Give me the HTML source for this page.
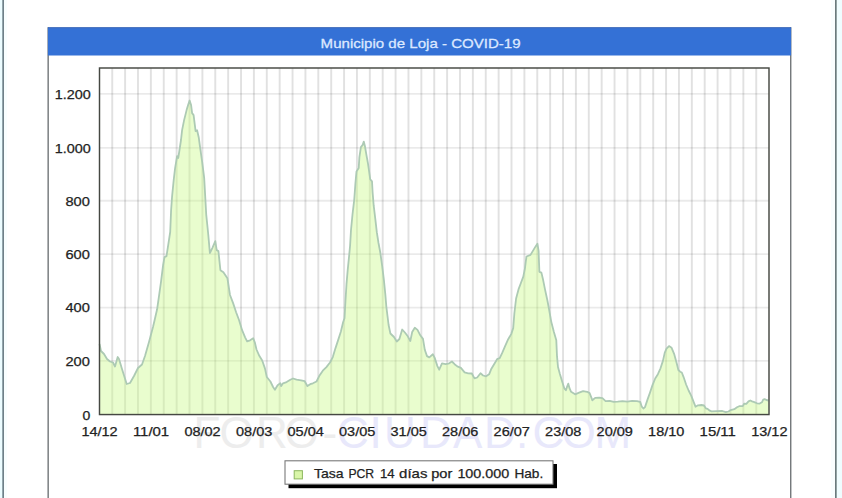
<!DOCTYPE html>
<html><head><meta charset="utf-8"><title>Municipio de Loja - COVID-19</title>
<style>
html,body{margin:0;padding:0;background:#fff;}
body{width:842px;height:498px;overflow:hidden;font-family:"Liberation Sans",sans-serif;}
svg{display:block;}
text{font-family:"Liberation Sans",sans-serif;}
</style></head><body>
<svg width="842" height="498" viewBox="0 0 842 498">
<rect x="0" y="0" width="842" height="498" fill="#ffffff"/>
<!-- outer page edges -->
<rect x="0" y="0" width="2" height="498" fill="#ebfcff"/>
<rect x="4" y="0" width="3" height="498" fill="#f8feff"/>
<rect x="2" y="0" width="1" height="498" fill="#93a6ad"/>
<rect x="3" y="0" width="1" height="498" fill="#6e8088"/>
<rect x="831" y="0" width="4" height="498" fill="#f8feff"/>
<rect x="837" y="0" width="5" height="498" fill="#effdff"/>
<rect x="835" y="0" width="1" height="498" fill="#6a7a7d"/>
<rect x="836" y="0" width="1" height="498" fill="#93a5a6"/>
<!-- watermark -->
<g font-size="44">
<text y="447.6" fill="#ededed" x="193.5 219.5 256 284.5 322.5">FORO-</text>
<text y="447.6" fill="#e8e8fb" x="337 369.5 384 420 453 484 516 532.5 561.5 594.5">CIUDAD.COM</text>
</g>
<!-- inner frame -->
<rect x="47.5" y="27.3" width="1.3" height="471" fill="#666b6e"/>
<rect x="790.1" y="27.3" width="1.3" height="471" fill="#666b6e"/>
<rect x="47.9" y="27.3" width="743.2" height="28.2" fill="#3471d6"/>
<rect x="47.9" y="27.3" width="743.2" height="0.9" fill="#4168b4"/>
<text x="320.6" y="47.7" font-size="13.6" fill="#dce8ff" stroke="#dce8ff" stroke-width="0.3" textLength="200" lengthAdjust="spacingAndGlyphs">Municipio de Loja - COVID-19</text>
<!-- plot -->
<g stroke="#000" stroke-opacity="0.082" stroke-width="1.8"><line x1="99.5" y1="360.95" x2="769.0" y2="360.95"/><line x1="99.5" y1="307.55" x2="769.0" y2="307.55"/><line x1="99.5" y1="254.15" x2="769.0" y2="254.15"/><line x1="99.5" y1="200.75" x2="769.0" y2="200.75"/><line x1="99.5" y1="147.80" x2="769.0" y2="147.80"/><line x1="99.5" y1="93.95" x2="769.0" y2="93.95"/></g>
<g stroke="#000" stroke-opacity="0.118" stroke-width="1.95"><line x1="112.23" y1="68.0" x2="112.23" y2="414.55"/><line x1="125.11" y1="68.0" x2="125.11" y2="414.55"/><line x1="137.99" y1="68.0" x2="137.99" y2="414.55"/><line x1="150.87" y1="68.0" x2="150.87" y2="414.55"/><line x1="163.75" y1="68.0" x2="163.75" y2="414.55"/><line x1="176.63" y1="68.0" x2="176.63" y2="414.55"/><line x1="189.51" y1="68.0" x2="189.51" y2="414.55"/><line x1="202.39" y1="68.0" x2="202.39" y2="414.55"/><line x1="215.27" y1="68.0" x2="215.27" y2="414.55"/><line x1="228.15" y1="68.0" x2="228.15" y2="414.55"/><line x1="241.03" y1="68.0" x2="241.03" y2="414.55"/><line x1="253.91" y1="68.0" x2="253.91" y2="414.55"/><line x1="266.79" y1="68.0" x2="266.79" y2="414.55"/><line x1="279.67" y1="68.0" x2="279.67" y2="414.55"/><line x1="292.55" y1="68.0" x2="292.55" y2="414.55"/><line x1="305.43" y1="68.0" x2="305.43" y2="414.55"/><line x1="318.31" y1="68.0" x2="318.31" y2="414.55"/><line x1="331.19" y1="68.0" x2="331.19" y2="414.55"/><line x1="344.07" y1="68.0" x2="344.07" y2="414.55"/><line x1="356.95" y1="68.0" x2="356.95" y2="414.55"/><line x1="369.83" y1="68.0" x2="369.83" y2="414.55"/><line x1="382.71" y1="68.0" x2="382.71" y2="414.55"/><line x1="395.59" y1="68.0" x2="395.59" y2="414.55"/><line x1="408.47" y1="68.0" x2="408.47" y2="414.55"/><line x1="421.35" y1="68.0" x2="421.35" y2="414.55"/><line x1="434.23" y1="68.0" x2="434.23" y2="414.55"/><line x1="447.11" y1="68.0" x2="447.11" y2="414.55"/><line x1="459.99" y1="68.0" x2="459.99" y2="414.55"/><line x1="472.87" y1="68.0" x2="472.87" y2="414.55"/><line x1="485.75" y1="68.0" x2="485.75" y2="414.55"/><line x1="498.63" y1="68.0" x2="498.63" y2="414.55"/><line x1="511.51" y1="68.0" x2="511.51" y2="414.55"/><line x1="524.39" y1="68.0" x2="524.39" y2="414.55"/><line x1="537.27" y1="68.0" x2="537.27" y2="414.55"/><line x1="550.15" y1="68.0" x2="550.15" y2="414.55"/><line x1="563.03" y1="68.0" x2="563.03" y2="414.55"/><line x1="575.91" y1="68.0" x2="575.91" y2="414.55"/><line x1="588.79" y1="68.0" x2="588.79" y2="414.55"/><line x1="601.67" y1="68.0" x2="601.67" y2="414.55"/><line x1="614.55" y1="68.0" x2="614.55" y2="414.55"/><line x1="627.43" y1="68.0" x2="627.43" y2="414.55"/><line x1="640.31" y1="68.0" x2="640.31" y2="414.55"/><line x1="653.19" y1="68.0" x2="653.19" y2="414.55"/><line x1="666.07" y1="68.0" x2="666.07" y2="414.55"/><line x1="678.95" y1="68.0" x2="678.95" y2="414.55"/><line x1="691.83" y1="68.0" x2="691.83" y2="414.55"/><line x1="704.71" y1="68.0" x2="704.71" y2="414.55"/><line x1="717.59" y1="68.0" x2="717.59" y2="414.55"/><line x1="730.47" y1="68.0" x2="730.47" y2="414.55"/><line x1="743.35" y1="68.0" x2="743.35" y2="414.55"/><line x1="756.23" y1="68.0" x2="756.23" y2="414.55"/></g>
<polygon points="99.5,344 101,351 104,354 107,359 110,361.5 113,362.5 115,366.5 117.7,357 119,359 122,369 126.7,384 130,383 134,376 138,368 142,364.5 145,356 149,342 153,327 155,318.5 157.1,309.3 159.1,295.3 161.1,281.2 163.1,265.2 164.5,257.1 166.5,256.1 168.2,245.1 170.2,232 171.1,210.3 172.1,196.3 173.7,180.2 175.1,168.2 177.1,156.1 178.2,158 179.2,152 181,140 182.1,130.2 184.1,120.1 186.6,110.1 188.1,105.1 189.6,100.5 191.1,105.1 192.1,113.1 193.6,115.1 194.6,123.1 195.6,131.2 197.1,130.2 198.7,137.2 200.2,148.1 202.2,162.1 204.2,178.2 205.2,196.3 206.2,214.3 207.3,225 208.3,235 209.9,253.1 212.3,248.1 215.3,241.1 216.7,250.1 218.4,251.1 220.4,270.2 223.4,272.2 227.4,278.2 230,295 233.1,303.1 236.1,312.2 239.1,320.2 242.1,330.2 245.1,337.3 247.1,341.3 250.1,340.3 253.2,338.3 254.8,342.3 256.5,349.5 259.3,355.8 262.2,360.5 265,368.6 266.8,377 270.4,381.5 273.1,387 274.9,389.7 277.6,385.2 280.3,383.3 281.2,386.1 283,383.3 286.6,382.1 290.3,379.7 293,378.5 296.6,379.7 301.1,380.3 304.7,381.2 307.4,386.1 310.2,384.2 312.9,383.3 316.5,381.5 319.2,376.1 322.8,370.7 326.4,367.1 330,362.5 332.8,357.1 335.5,348.1 338.2,339.9 340.9,331.5 343.1,322.3 344.5,318.3 345.5,300.2 346.5,284.2 347.7,270.1 349.1,256.1 350.1,245.5 351,230 352.5,214.5 354.3,199.1 355.4,183.6 356.5,171.4 358.7,168.1 359.4,157.1 360.9,147.1 362.7,144.9 363.8,141.6 364.9,146 366.4,154.9 368,163.7 369.3,172.6 370.2,179.2 372,181.4 372.6,192.4 373.7,205.7 375.3,218.9 376.8,232.2 378.5,243 380.2,252 382.2,266.1 383.9,280.2 385.3,294.2 386.3,306.3 387.5,316 388.6,325 390.4,333.5 394,337 396.8,341.5 399.4,339 402.2,329.5 404.9,332.5 407.8,336.3 410.3,341 412.2,332 414.8,327.7 417.5,329.9 420.3,335.3 423,338.9 424.8,349.8 427,356.1 429.3,357.4 432.9,354.3 434.7,357.9 437.4,366.1 439.2,369.7 442,363.3 445.6,364.2 449.2,363.3 451.9,361.5 454.6,364.2 457.3,366.4 460.9,367.9 464.6,372.4 468.2,373.3 471.8,373.5 474.5,378.4 477.2,377.5 480.5,373.3 483.1,375.5 486.1,376.3 489.1,374.3 491.1,369.3 494.1,364.3 497.1,359.2 499.7,358.2 502.1,353.2 505.1,346.2 508.2,339.2 511.2,334.1 513.2,328.1 514.4,313 516.1,298.5 518.5,289.4 520.9,283 523.3,276.6 524.9,268.6 525.7,262.1 526.5,256.5 530.5,254.9 532.9,250.9 535.3,246.9 537.4,243.7 538.6,250.9 539,262.1 539.4,271.8 541.4,272.6 543.1,279.8 545,289.4 547.4,300.5 549.2,310 551.3,322.1 553.9,332.1 556.3,340.2 557,356.2 558,367 559.9,374 562.3,382 564.3,388.3 565.9,390.2 567.1,386.6 568.3,383.7 569.5,388.2 571.1,391.8 575.1,394.3 579.1,392.7 583.1,391.1 587.2,391.8 589.6,393.1 591.2,397.1 592.3,400.3 595.2,397.9 599.2,397.6 602.4,398.2 605.6,401.1 609.7,400.8 613.7,401.9 617.7,401.6 622.5,401.1 627.3,401.6 632.2,400.8 637,401.1 640.2,401.9 641.8,406.7 643.4,408.5 645,407.1 647.5,399.6 650,392.6 652.5,385.1 655.2,378.5 657.9,374.2 660.5,368.3 663,360.6 664.7,352.9 666.5,348.7 669,346.1 671.6,347.8 674.1,353.8 676.7,363.2 678.4,370 680.1,371.7 681.8,372.5 683.5,376.8 686.1,384.5 688.6,390.5 691.2,395.6 693.8,402.4 695.5,406.7 698,405.3 701.4,405 704,405.5 705.8,408.3 707.6,408.9 709.8,410.7 711.6,411.3 716.9,411.1 722.3,411 725.8,412.2 728.5,411.5 730.7,410.1 734.3,409.2 737,407.3 739.2,406.2 742.8,406 744.3,403.6 746.3,403.9 748.5,401.4 750.3,400.5 752.1,401.4 754.3,402.1 757,403.3 759.7,403.6 761.9,402.3 763.2,399.6 764.6,399.1 766.4,400 768.5,400.5 768.5,414.55 99.5,414.55" fill="#c8fa84" fill-opacity="0.4"/>
<polyline points="99.5,344 101,351 104,354 107,359 110,361.5 113,362.5 115,366.5 117.7,357 119,359 122,369 126.7,384 130,383 134,376 138,368 142,364.5 145,356 149,342 153,327 155,318.5 157.1,309.3 159.1,295.3 161.1,281.2 163.1,265.2 164.5,257.1 166.5,256.1 168.2,245.1 170.2,232 171.1,210.3 172.1,196.3 173.7,180.2 175.1,168.2 177.1,156.1 178.2,158 179.2,152 181,140 182.1,130.2 184.1,120.1 186.6,110.1 188.1,105.1 189.6,100.5 191.1,105.1 192.1,113.1 193.6,115.1 194.6,123.1 195.6,131.2 197.1,130.2 198.7,137.2 200.2,148.1 202.2,162.1 204.2,178.2 205.2,196.3 206.2,214.3 207.3,225 208.3,235 209.9,253.1 212.3,248.1 215.3,241.1 216.7,250.1 218.4,251.1 220.4,270.2 223.4,272.2 227.4,278.2 230,295 233.1,303.1 236.1,312.2 239.1,320.2 242.1,330.2 245.1,337.3 247.1,341.3 250.1,340.3 253.2,338.3 254.8,342.3 256.5,349.5 259.3,355.8 262.2,360.5 265,368.6 266.8,377 270.4,381.5 273.1,387 274.9,389.7 277.6,385.2 280.3,383.3 281.2,386.1 283,383.3 286.6,382.1 290.3,379.7 293,378.5 296.6,379.7 301.1,380.3 304.7,381.2 307.4,386.1 310.2,384.2 312.9,383.3 316.5,381.5 319.2,376.1 322.8,370.7 326.4,367.1 330,362.5 332.8,357.1 335.5,348.1 338.2,339.9 340.9,331.5 343.1,322.3 344.5,318.3 345.5,300.2 346.5,284.2 347.7,270.1 349.1,256.1 350.1,245.5 351,230 352.5,214.5 354.3,199.1 355.4,183.6 356.5,171.4 358.7,168.1 359.4,157.1 360.9,147.1 362.7,144.9 363.8,141.6 364.9,146 366.4,154.9 368,163.7 369.3,172.6 370.2,179.2 372,181.4 372.6,192.4 373.7,205.7 375.3,218.9 376.8,232.2 378.5,243 380.2,252 382.2,266.1 383.9,280.2 385.3,294.2 386.3,306.3 387.5,316 388.6,325 390.4,333.5 394,337 396.8,341.5 399.4,339 402.2,329.5 404.9,332.5 407.8,336.3 410.3,341 412.2,332 414.8,327.7 417.5,329.9 420.3,335.3 423,338.9 424.8,349.8 427,356.1 429.3,357.4 432.9,354.3 434.7,357.9 437.4,366.1 439.2,369.7 442,363.3 445.6,364.2 449.2,363.3 451.9,361.5 454.6,364.2 457.3,366.4 460.9,367.9 464.6,372.4 468.2,373.3 471.8,373.5 474.5,378.4 477.2,377.5 480.5,373.3 483.1,375.5 486.1,376.3 489.1,374.3 491.1,369.3 494.1,364.3 497.1,359.2 499.7,358.2 502.1,353.2 505.1,346.2 508.2,339.2 511.2,334.1 513.2,328.1 514.4,313 516.1,298.5 518.5,289.4 520.9,283 523.3,276.6 524.9,268.6 525.7,262.1 526.5,256.5 530.5,254.9 532.9,250.9 535.3,246.9 537.4,243.7 538.6,250.9 539,262.1 539.4,271.8 541.4,272.6 543.1,279.8 545,289.4 547.4,300.5 549.2,310 551.3,322.1 553.9,332.1 556.3,340.2 557,356.2 558,367 559.9,374 562.3,382 564.3,388.3 565.9,390.2 567.1,386.6 568.3,383.7 569.5,388.2 571.1,391.8 575.1,394.3 579.1,392.7 583.1,391.1 587.2,391.8 589.6,393.1 591.2,397.1 592.3,400.3 595.2,397.9 599.2,397.6 602.4,398.2 605.6,401.1 609.7,400.8 613.7,401.9 617.7,401.6 622.5,401.1 627.3,401.6 632.2,400.8 637,401.1 640.2,401.9 641.8,406.7 643.4,408.5 645,407.1 647.5,399.6 650,392.6 652.5,385.1 655.2,378.5 657.9,374.2 660.5,368.3 663,360.6 664.7,352.9 666.5,348.7 669,346.1 671.6,347.8 674.1,353.8 676.7,363.2 678.4,370 680.1,371.7 681.8,372.5 683.5,376.8 686.1,384.5 688.6,390.5 691.2,395.6 693.8,402.4 695.5,406.7 698,405.3 701.4,405 704,405.5 705.8,408.3 707.6,408.9 709.8,410.7 711.6,411.3 716.9,411.1 722.3,411 725.8,412.2 728.5,411.5 730.7,410.1 734.3,409.2 737,407.3 739.2,406.2 742.8,406 744.3,403.6 746.3,403.9 748.5,401.4 750.3,400.5 752.1,401.4 754.3,402.1 757,403.3 759.7,403.6 761.9,402.3 763.2,399.6 764.6,399.1 766.4,400 768.5,400.5" fill="none" stroke="#adcab4" stroke-width="1.8" stroke-linejoin="round"/>
<rect x="99.5" y="68.0" width="669.5" height="346.55" fill="none" stroke="#454842" stroke-width="1.45"/>
<g font-size="12.6" fill="#222" stroke="#222" stroke-width="0.25"><text x="82.4" y="419.9" textLength="7.8" lengthAdjust="spacingAndGlyphs">0</text><text x="65.4" y="365.9" textLength="24.4" lengthAdjust="spacingAndGlyphs">200</text><text x="65.4" y="312.4" textLength="24.4" lengthAdjust="spacingAndGlyphs">400</text><text x="65.4" y="259.1" textLength="24.4" lengthAdjust="spacingAndGlyphs">600</text><text x="65.4" y="205.7" textLength="24.4" lengthAdjust="spacingAndGlyphs">800</text><text x="54.8" y="152.7" textLength="36" lengthAdjust="spacingAndGlyphs">1.000</text><text x="54.8" y="98.9" textLength="36" lengthAdjust="spacingAndGlyphs">1.200</text><text x="81.4" y="435.8" textLength="36.3" lengthAdjust="spacingAndGlyphs">14/12</text><text x="132.9" y="435.8" textLength="36.3" lengthAdjust="spacingAndGlyphs">11/01</text><text x="184.4" y="435.8" textLength="36.3" lengthAdjust="spacingAndGlyphs">08/02</text><text x="236.0" y="435.8" textLength="36.3" lengthAdjust="spacingAndGlyphs">08/03</text><text x="287.5" y="435.8" textLength="36.3" lengthAdjust="spacingAndGlyphs">05/04</text><text x="339.0" y="435.8" textLength="36.3" lengthAdjust="spacingAndGlyphs">03/05</text><text x="390.5" y="435.8" textLength="36.3" lengthAdjust="spacingAndGlyphs">31/05</text><text x="442.0" y="435.8" textLength="36.3" lengthAdjust="spacingAndGlyphs">28/06</text><text x="493.6" y="435.8" textLength="36.3" lengthAdjust="spacingAndGlyphs">26/07</text><text x="545.1" y="435.8" textLength="36.3" lengthAdjust="spacingAndGlyphs">23/08</text><text x="596.6" y="435.8" textLength="36.3" lengthAdjust="spacingAndGlyphs">20/09</text><text x="648.1" y="435.8" textLength="36.3" lengthAdjust="spacingAndGlyphs">18/10</text><text x="699.6" y="435.8" textLength="36.3" lengthAdjust="spacingAndGlyphs">15/11</text><text x="751.2" y="435.8" textLength="36.3" lengthAdjust="spacingAndGlyphs">13/12</text></g>
<!-- legend -->
<rect x="288.5" y="464" width="268.5" height="24.2" fill="#000"/>
<rect x="285" y="460.8" width="268" height="23.4" fill="#fff" stroke="#737373" stroke-width="1.05"/>
<rect x="294.2" y="470.7" width="8.2" height="8.2" fill="#d9f6a8" stroke="#8cb65e" stroke-width="1"/>
<g font-size="12.6" fill="#222" stroke="#222" stroke-width="0.25"><text x="313.9" y="478" textLength="29.7" lengthAdjust="spacingAndGlyphs">Tasa</text><text x="348.4" y="478" textLength="25.7" lengthAdjust="spacingAndGlyphs">PCR</text><text x="379.9" y="478" textLength="14.7" lengthAdjust="spacingAndGlyphs">14</text><text x="399.1" y="478" textLength="28.3" lengthAdjust="spacingAndGlyphs">días</text><text x="431.2" y="478" textLength="21.1" lengthAdjust="spacingAndGlyphs">por</text><text x="457.4" y="478" textLength="51.9" lengthAdjust="spacingAndGlyphs">100.000</text><text x="514.4" y="478" textLength="28.8" lengthAdjust="spacingAndGlyphs">Hab.</text></g>
</svg>
</body></html>
